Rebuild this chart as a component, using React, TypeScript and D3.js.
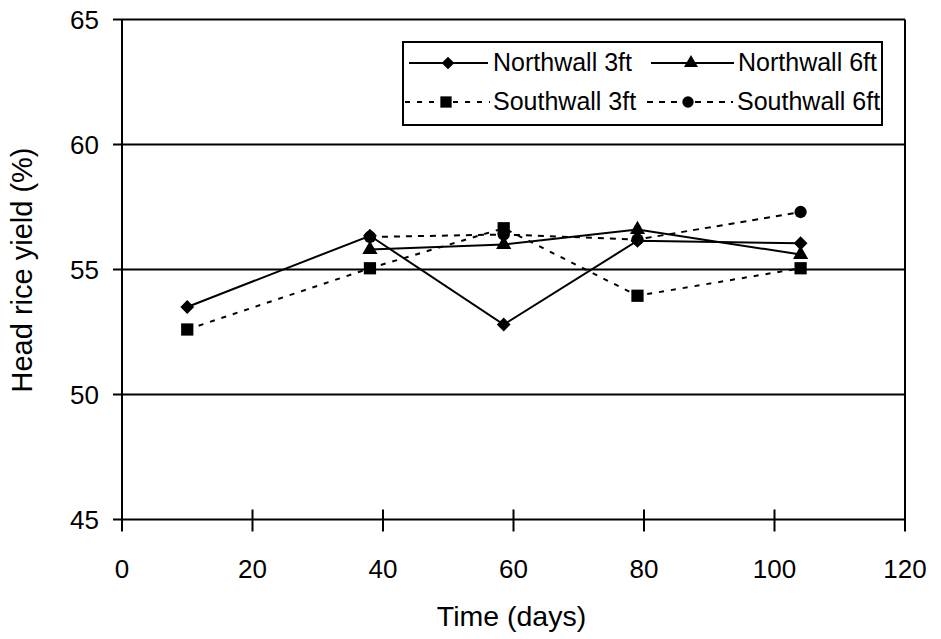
import React from "react";
import * as d3 from "d3";

const xTicks = [0, 20, 40, 60, 80, 100, 120];
const yTicks = [45, 50, 55, 60, 65];
const gridValues = [50, 55, 60, 65];

const nw3Days = [10, 38, 58.5, 79, 104];
const nw3Values = [53.5, 56.35, 52.8, 56.15, 56.05];
const nw6Days = [38, 58.5, 79, 104];
const nw6Values = [55.8, 56.0, 56.6, 55.6];
const sw3Days = [10, 38, 58.5, 79, 104];
const sw3Values = [52.6, 55.05, 56.65, 53.95, 55.05];
const sw6Days = [38, 58.5, 79, 104];
const sw6Values = [56.3, 56.4, 56.2, 57.3];

const seriesNames = ["Northwall 3ft", "Northwall 6ft", "Southwall 3ft", "Southwall 6ft"];

const FONT = "'Liberation Sans', Arial, Helvetica, sans-serif";

export default function App() {
  const W = 941, H = 639;
  const x = d3.scaleLinear().domain([0, 120]).range([122, 905]);
  const y = d3.scaleLinear().domain([45, 65]).range([519.5, 19.5]);

  const series = [
    { name: seriesNames[0], days: nw3Days, vals: nw3Values, sym: d3.symbolSquare, size: 95, rot: 45, dash: "" },
    { name: seriesNames[1], days: nw6Days, vals: nw6Values, sym: d3.symbolTriangle, size: 100, rot: 0, dash: "" },
    { name: seriesNames[2], days: sw3Days, vals: sw3Values, sym: d3.symbolSquare, size: 150, rot: 0, dash: "5,7" },
    { name: seriesNames[3], days: sw6Days, vals: sw6Values, sym: d3.symbolCircle, size: 120, rot: 0, dash: "6,6" },
  ];

  const line = d3.line<[number, number]>().x(d => x(d[0])).y(d => y(d[1]));

  const legendRows = [
    { i: 0, lx1: 409, lx2: 488, mx: 448, tx: 493, ly: 63, ty: 71 },
    { i: 1, lx1: 651, lx2: 734, mx: 691, tx: 738, ly: 63, ty: 71 },
    { i: 2, lx1: 405, lx2: 490, mx: 446, tx: 493, ly: 102, ty: 110 },
    { i: 3, lx1: 647, lx2: 733, mx: 688, tx: 737, ly: 102, ty: 110 },
  ];

  return (
    <svg width={W} height={H} style={{ position: "absolute", left: 0, top: 0, background: "#fff" }}>
      <rect x={0} y={0} width={W} height={H} fill="#fff" />
      {gridValues.map(v => (
        <line key={v} x1={x(0)} x2={x(120)} y1={y(v)} y2={y(v)} stroke="#000" strokeWidth={2} />
      ))}
      <line x1={x(0)} x2={x(0)} y1={y(65)} y2={y(45)} stroke="#000" strokeWidth={2} />
      <line x1={x(120)} x2={x(120)} y1={y(65)} y2={y(45)} stroke="#000" strokeWidth={2} />
      <line x1={x(0)} x2={x(120)} y1={y(45)} y2={y(45)} stroke="#000" strokeWidth={2} />
      {yTicks.map(v => (
        <g key={v}>
          <line x1={x(0) - 9} x2={x(0)} y1={y(v)} y2={y(v)} stroke="#000" strokeWidth={2} />
          <text x={99} y={y(v)} dy="0.36em" textAnchor="end" fontFamily={FONT} fontSize={26} fill="#000">{v}</text>
        </g>
      ))}
      {xTicks.map(v => (
        <g key={v}>
          <line x1={x(v)} x2={x(v)} y1={y(45) - 10} y2={y(45) + 12} stroke="#000" strokeWidth={2} />
          <text x={x(v)} y={578} textAnchor="middle" fontFamily={FONT} fontSize={26} fill="#000">{v}</text>
        </g>
      ))}
      <text x={(x(0) + x(120)) / 2 - 2} y={626} textAnchor="middle" fontFamily={FONT} fontSize={28.5} fill="#000">Time (days)</text>
      <text transform={`translate(32, 270) rotate(-90)`} textAnchor="middle" fontFamily={FONT} fontSize={29} fill="#000">Head rice yield (%)</text>
      {series.map(s => {
        const pts: [number, number][] = s.days.map((d, i) => [d, s.vals[i]]);
        const sym = d3.symbol().type(s.sym).size(s.size)();
        return (
          <g key={s.name}>
            <path d={line(pts) || ""} fill="none" stroke="#000" strokeWidth={2} strokeDasharray={s.dash || undefined} />
            {pts.map((p, i) => (
              <path key={i} d={sym || ""} transform={`translate(${x(p[0])},${y(p[1])}) rotate(${s.rot})`} fill="#000" />
            ))}
          </g>
        );
      })}
      <rect x={403} y={42} width={479} height={83} fill="#fff" stroke="#000" strokeWidth={2} />
      {legendRows.map(r => {
        const s = series[r.i];
        const sym = d3.symbol().type(s.sym).size(s.size * 0.85)();
        return (
          <g key={r.i}>
            <line x1={r.lx1} x2={r.lx2} y1={r.ly} y2={r.ly} stroke="#000" strokeWidth={2} strokeDasharray={s.dash || undefined} />
            <path d={sym || ""} transform={`translate(${r.mx},${r.ly}) rotate(${s.rot})`} fill="#000" />
            <text x={r.tx} y={r.ty} fontFamily={FONT} fontSize={25} fill="#000">{s.name}</text>
          </g>
        );
      })}
    </svg>
  );
}
